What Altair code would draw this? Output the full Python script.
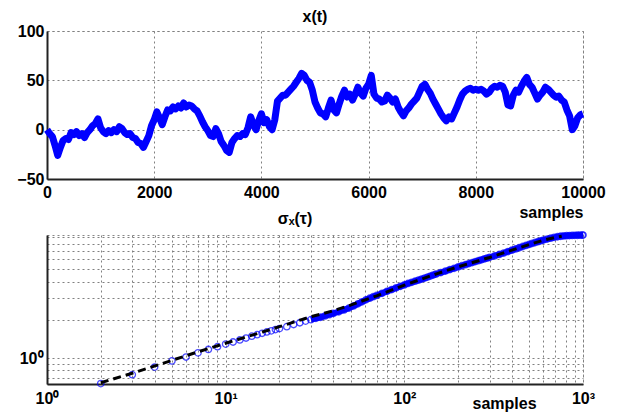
import altair as alt
import pandas as pd

# ---- top panel: x(t) ----
t_vals = list(range(0, 10001, 50))
x_vals = [
    0, -4, -7, -16, -26, -18, -11, -9, -10, -3, -5, -2, -6, -4, -8, -3, 0, 4, 6, 11,
    2, -2, -4, -1, -3, 0, -2, 3, 1, -3, -5, -4, -8, -9, -13, -14, -18, -12, -6, 4,
    10, 18, 12, 5, 13, 20, 19, 23, 21, 24, 22, 27, 23, 25, 24, 21, 19, 14, 8, 3,
    -1, -6, -7, 1, -4, -12, -16, -21, -23, -13, -9, -6, -7, -4, -5, 2, 13, 5, 0, 9,
    16, 7, 10, 3, 0, 10, 29, 32, 35, 35, 38, 41, 44, 48, 52, 57, 55, 50, 48, 40,
    28, 22, 17, 16, 13, 22, 30, 20, 17, 26, 34, 40, 33, 36, 30, 36, 43, 37, 34, 42,
    46, 55, 36, 32, 31, 28, 29, 35, 32, 28, 31, 23, 18, 14, 19, 22, 26, 29, 32, 38,
    44, 46, 41, 37, 31, 26, 21, 16, 12, 9, 13, 11, 17, 23, 30, 36, 39, 41, 42, 40,
    41, 40, 41, 39, 36, 38, 42, 44, 43, 45, 44, 38, 25, 24, 35, 40, 38, 44, 49, 53,
    46, 43, 37, 31, 35, 38, 43, 41, 38, 35, 33, 34, 30, 28, 20, 14, 0, 4, 12, 15,
    16,
]
x_ticks = [0, 2000, 4000, 6000, 8000, 10000]
y_ticks = [-50, 0, 50, 100]

# ---- bottom panel: sigma_x(tau) ----
tau_vals = (list(range(2, 21)) + list(range(22, 41, 2)) + list(range(43, 71, 3))
            + list(range(75, 151, 5)) + list(range(160, 301, 10))
            + list(range(320, 601, 20)) + list(range(630, 991, 30)) + [1000])
sigma_vals = [
    0.63, 0.74, 0.85, 0.95, 1.02, 1.10, 1.17, 1.23, 1.29, 1.34, 1.39, 1.44, 1.49, 1.53,
    1.57, 1.61, 1.64, 1.68, 1.71,
    1.77, 1.84, 1.90, 1.96, 2.01, 2.06, 2.10, 2.15, 2.20, 2.25,
    2.32, 2.40, 2.48, 2.58, 2.68, 2.78, 2.88, 2.97, 3.05, 3.12,
    3.24, 3.36, 3.47, 3.58, 3.68, 3.78, 3.88, 3.96, 4.04, 4.12, 4.20, 4.28, 4.36, 4.44,
    4.52, 4.59,
    4.73, 4.86, 4.99, 5.11, 5.24, 5.35, 5.46, 5.57, 5.67, 5.77, 5.86, 5.96, 6.05, 6.14, 6.23,
    6.40, 6.57, 6.74, 6.92, 7.10, 7.26, 7.42, 7.59, 7.74, 7.88, 8.02, 8.16, 8.29, 8.41, 8.52,
    8.68, 8.83, 8.96, 9.06, 9.14, 9.19, 9.23, 9.26, 9.28, 9.30, 9.31, 9.32, 9.33,
    9.33,
]
fit_tau = [2, 3, 5, 7, 10, 15, 20, 30, 40, 50, 70, 100, 150, 200, 300, 400, 500, 600, 700, 760]
fit_sigma = [0.64, 0.76, 0.96, 1.12, 1.31, 1.56, 1.77, 2.12, 2.36, 2.62, 3.10, 3.76, 4.60,
             5.25, 6.22, 7.10, 7.86, 8.50, 8.95, 9.15]

x_grid = [1, 2, 3, 4, 5, 6, 7, 8, 9, 10, 20, 30, 40, 50, 60, 70, 80, 90, 100,
          200, 300, 400, 500, 600, 700, 800, 900, 1000]
y_grid = [0.7, 0.8, 0.9, 1, 2, 3, 4, 5, 6, 7, 8, 9]

FONT = "Liberation Sans"
FS = 16
GRID = dict(grid=True, gridColor="#808080", gridDash=[2, 3], gridWidth=1, gridOpacity=1)
DOMAIN = dict(domainColor="#222222", domainWidth=2, ticks=False,
              labelFont=FONT, labelFontSize=FS, labelColor="#000000", labelFontWeight="bold")

df_x = pd.DataFrame({"t": t_vals, "x": x_vals})
df_s = pd.DataFrame({"tau": tau_vals, "sigma": sigma_vals})
df_f = pd.DataFrame({"tau": fit_tau, "sigma": fit_sigma})

top = alt.Chart(df_x).mark_line(color="#0000FF", strokeWidth=7, strokeJoin="round").encode(
    x=alt.X("t:Q", scale=alt.Scale(domain=[0, 10000], nice=False),
            axis=alt.Axis(values=x_ticks, title="samples", titleAnchor="end",
                          titleFont=FONT, titleFontSize=FS, titleFontWeight="bold",
                          titleColor="#000000", titlePadding=4, labelPadding=5,
                          labelFlush=False, labelOverlap=False, format="d", **GRID, **DOMAIN)),
    y=alt.Y("x:Q", scale=alt.Scale(domain=[-50, 100], nice=False, zero=False),
            axis=alt.Axis(values=y_ticks, title=None, labelPadding=3, labelOverlap=False,
                          format="d", **GRID, **DOMAIN)),
).properties(
    width=536, height=148,
    title=alt.TitleParams("x(t)", font=FONT, fontSize=FS, fontWeight="bold",
                          color="#000000", anchor="middle", offset=-2),
)

label_expr = (
    "datum.value == 1 ? '10\u2070' : datum.value == 10 ? '10\u00b9' : "
    "datum.value == 100 ? '10\u00b2' : datum.value == 1000 ? '10\u00b3' : ''"
)

xs = alt.X("tau:Q", scale=alt.Scale(type="log", domain=[1, 1000], nice=False),
           axis=alt.Axis(values=x_grid, labelExpr=label_expr, title="samples",
                         titleX=457, titleY=19, titleAlign="center", titleBaseline="middle",
                         titleFont=FONT, titleFontSize=FS, titleFontWeight="bold",
                         titleColor="#000000", labelPadding=6, labelFlush=False,
                         labelOverlap=False, **GRID, **DOMAIN))
ys = alt.Y("sigma:Q", scale=alt.Scale(type="log", domain=[0.625, 9.35], nice=False),
           axis=alt.Axis(values=y_grid, labelExpr=label_expr, title=None, labelPadding=4,
                         labelOverlap=False, **GRID, **DOMAIN))

pts = alt.Chart(df_s).mark_point(shape="circle", filled=False, color="#0000FF",
                                  size=42, strokeWidth=1.3).encode(x=xs, y=ys)
band = alt.Chart(df_s).transform_filter("datum.tau >= 30").mark_line(
    color="#0000FF", strokeWidth=6).encode(x=xs, y=ys)
fit = alt.Chart(df_f).mark_line(color="#000000", strokeWidth=3, strokeDash=[8, 5]).encode(
    x=xs, y=ys)

bottom = alt.layer(band, pts, fit).properties(
    width=536, height=149,
    title=alt.TitleParams("\u03c3\u2093(\u03c4)", font=FONT, fontSize=FS, fontWeight="bold",
                          color="#000000", anchor="middle", offset=-4, dx=-20),
)

chart = alt.vconcat(top, bottom, spacing=56, bounds="flush").properties(
    padding={"left": 8, "top": 0, "right": 5, "bottom": 5}
).configure_view(stroke="#888888", strokeDash=[2, 3], strokeWidth=1)

chart.save("out.html", embed_options={"renderer": "svg", "actions": False})
